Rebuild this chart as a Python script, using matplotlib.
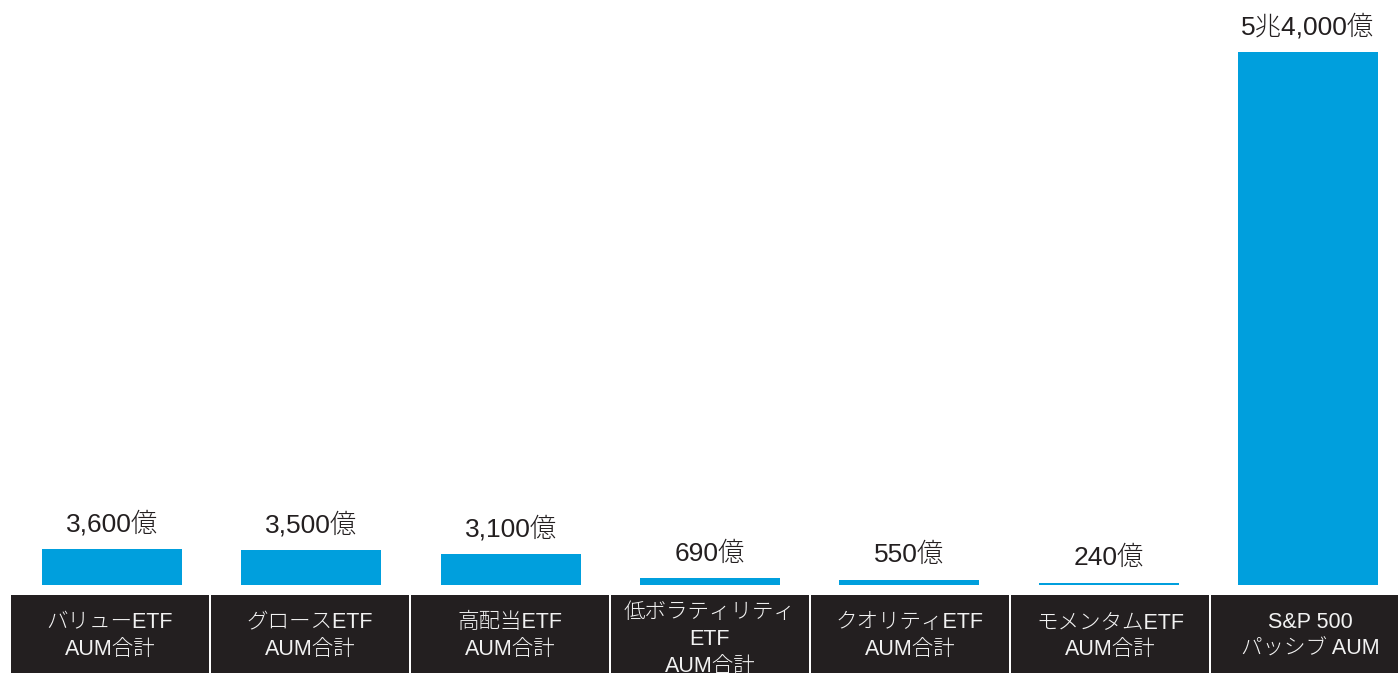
import matplotlib
matplotlib.use("Agg")
import matplotlib.pyplot as plt
from matplotlib.patches import Rectangle

plt.rcParams['font.family'] = ['Liberation Sans', 'Noto Sans CJK JP', 'DejaVu Sans']

categories = ["バリューETF\nAUM合計", "グロースETF\nAUM合計", "高配当ETF\nAUM合計",
              "低ボラティリティ\nETF\nAUM合計", "クオリティETF\nAUM合計",
              "モメンタムETF\nAUM合計", "S&P 500\nパッシブ AUM"]
values = [3600, 3500, 3100, 690, 550, 240, 54000]  # 億ドル
value_labels = ["3,600億", "3,500億", "3,100億", "690億", "550億", "240億", "5兆4,000億"]

W, H = 1398, 673
fig = plt.figure(figsize=(W / 100, H / 100), dpi=100)

step = 199.33
xl = (-112 / step, (W - 112) / step)
base_px = 585
top_px = 52
ymax = values[-1] * base_px / (base_px - top_px)

ax = fig.add_axes([0, (H - base_px) / H, 1, base_px / H])
ax.bar(range(len(values)), values, width=140 / step, color='#009fdd')
ax.set_xlim(*xl)
ax.set_ylim(0, ymax)
ax.axis('off')
for i, (v, lab) in enumerate(zip(values, value_labels)):
    ax.annotate(lab, (i, v), xytext=(0, 9), textcoords='offset points',
                ha='center', va='bottom', fontsize=19, color='#231f20',
                fontweight='light')

box_top = 595
bh = H - box_top
ax2 = fig.add_axes([0, 0, 1, bh / H])
ax2.set_xlim(-110 / 200, (W - 110) / 200)
ax2.set_ylim(0, bh)
ax2.axis('off')
for i, cat in enumerate(categories):
    ax2.add_patch(Rectangle((i - 0.495, -10), 0.99, bh + 10,
                            facecolor='#231f20', edgecolor='none'))
    nlines = cat.count('\n') + 1
    cy = bh - (636 - box_top) if nlines == 2 else bh - (639.5 - box_top)
    ax2.text(i, cy, cat, ha='center', va='center', fontweight='light',
             fontsize=15.5, color='#f2f2f2', linespacing=1.36)

fig.savefig("out.png", dpi=100)
